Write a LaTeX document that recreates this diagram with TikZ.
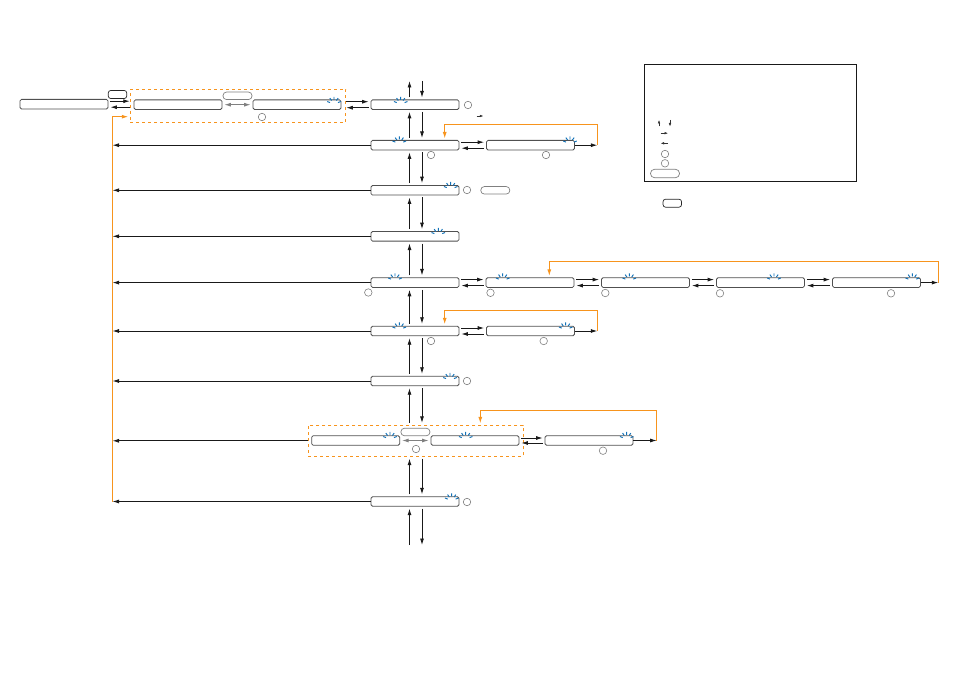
\documentclass[tikz,border=0pt]{standalone}
\usetikzlibrary{arrows.meta}

\definecolor{loopcol}{HTML}{F7941D}
\definecolor{blinkcol}{HTML}{1272B8}
\definecolor{boxcol}{HTML}{505050}

\tikzset{
  lcdbox/.style={draw=boxcol,line width=0.8pt,rounded corners=1.5pt,fill=white,inner sep=0pt,minimum width=88pt,minimum height=9.6pt},
  softkey/.style={draw=gray,line width=0.7pt,rounded corners=3.5pt,inner sep=0pt,minimum width=29pt,minimum height=7.5pt},
  hardkey/.style={draw=black!85,line width=0.7pt,rounded corners=2.5pt,inner sep=0pt,minimum width=18.5pt,minimum height=8pt},
  stepnum/.style={circle,draw=gray,line width=0.6pt,inner sep=0pt,minimum size=7.5pt},
  grpbox/.style={draw=loopcol,dashed,line width=0.8pt,inner sep=0pt},
  flow/.style={draw=black!90,line width=0.85pt,-{Latex[length=6.5pt,width=4pt]},shorten <=2pt,shorten >=2pt},
  rowline/.style={draw=black!90,line width=0.85pt,-{Latex[length=6.5pt,width=4pt]}},
  graylink/.style={draw=gray,line width=0.9pt,{Latex[length=6.5pt,width=4pt]}-{Latex[length=6.5pt,width=4pt]},shorten <=2pt,shorten >=2pt},
  loopline/.style={draw=loopcol,line width=1pt,-{Latex[length=6.5pt,width=4pt]},shorten >=1.5pt},
  legendarrow/.style={draw=black!80,line width=0.5pt,-{Latex[length=3.5pt,width=2.6pt]}},
  blink/.pic={
    \draw[blinkcol,line width=0.95pt] (20:4.2pt) -- (20:7.2pt) (55:4.2pt) -- (55:7.2pt) (90:4.2pt) -- (90:7.2pt) (125:4.2pt) -- (125:7.2pt) (160:4.2pt) -- (160:7.2pt);
  }
}

\begin{document}
\begin{tikzpicture}[x=1pt,y=-1pt]

\useasboundingbox (0,0) rectangle (954,674);

% dashed groups go under the boxes
\node at (238,105.8) [grpbox,minimum width=215.7pt,minimum height=33pt] (grp1) {};
\node at (415.8,440.8) [grpbox,minimum width=215pt,minimum height=31pt] (grp2) {};

% main column
\node at (415,104.7) [lcdbox] (row1) {};
\node at (415,145.2) [lcdbox] (row2) {};
\node at (415,190.3) [lcdbox] (row3) {};
\node at (415,236.3) [lcdbox] (row4) {};
\node at (415,282.6) [lcdbox] (row5) {};
\node at (415,331) [lcdbox] (row6) {};
\node at (415,381) [lcdbox] (row7) {};
\node at (415,501.5) [lcdbox] (row9) {};

% top left boxes
\node at (64,104.2) [lcdbox] (boxa) {};
\node at (178,104.7) [lcdbox] (boxb) {};
\node at (297,104.7) [lcdbox] (boxc) {};

% side branches
\node at (530.5,145.2) [lcdbox] (row2a) {};
\node at (530,282.6) [lcdbox] (row5a) {};
\node at (645.5,282.6) [lcdbox] (row5b) {};
\node at (760.5,282.6) [lcdbox] (row5c) {};
\node at (876.5,282.6) [lcdbox] (row5d) {};
\node at (530.5,331) [lcdbox] (row6a) {};
\node at (355.7,440.5) [lcdbox] (row8a) {};
\node at (475,440.5) [lcdbox] (row8b) {};
\node at (589,440.5) [lcdbox] (row8c) {};

% keys
\node at (117.5,94.5) [hardkey] (keytop) {};
\node at (237.5,95.8) [softkey] (softa) {};
\node at (495.3,190.3) [softkey] (softb) {};
\node at (415.4,432) [softkey] (softc) {};

% numbered circles
\node at (262,117) [stepnum] (numc) {};
\node at (468,105) [stepnum] (num1) {};
\node at (431,155) [stepnum] (num2) {};
\node at (546,155) [stepnum] (num2a) {};
\node at (467,190) [stepnum] (num3) {};
\node at (368.3,292.5) [stepnum] (num5) {};
\node at (490.5,292.8) [stepnum] (num5a) {};
\node at (605.3,293) [stepnum] (num5b) {};
\node at (720,293.3) [stepnum] (num5c) {};
\node at (891,293.3) [stepnum] (num5d) {};
\node at (431,341) [stepnum] (num6) {};
\node at (543.7,341) [stepnum] (num6a) {};
\node at (467,381) [stepnum] (num7) {};
\node at (416,449) [stepnum] (num8) {};
\node at (603,450.7) [stepnum] (num8c) {};
\node at (467,502) [stepnum] (num9) {};

% blinking segments
\pic at (334,104) {blink};
\pic at (400.7,104) {blink};
\pic at (399.3,143.5) {blink};
\pic at (570,143.5) {blink};
\pic at (450.7,189) {blink};
\pic at (438.3,235) {blink};
\pic at (395,280.5) {blink};
\pic at (502.7,280.5) {blink};
\pic at (629.3,280.5) {blink};
\pic at (774,280.5) {blink};
\pic at (912.3,280.5) {blink};
\pic at (399.3,329.5) {blink};
\pic at (565.7,329.5) {blink};
\pic at (450,380) {blink};
\pic at (390,439) {blink};
\pic at (465.7,439) {blink};
\pic at (626.7,439) {blink};
\pic at (451.7,500.5) {blink};

% column positions and free ends
\coordinate (up) at (409.5,0);
\coordinate (dn) at (422,0);
\coordinate (topend) at (0,81);
\coordinate (botend) at (0,545);
\coordinate (bus) at (112.5,116.7);
\coordinate (exit2) at (597.3,145.2);
\coordinate (exit5) at (938.3,282.6);
\coordinate (exit6) at (597.3,331);
\coordinate (exit8) at (656.7,440.5);
\coordinate (loop2) at (444.7,124.3);
\coordinate (loop5) at (549.3,261.3);
\coordinate (loop6) at (444.7,310.3);
\coordinate (loop8) at (480.3,410.7);

% orange return lines
\draw[loopline] (bus |- row9.west) -- (bus) -- (bus -| grp1.west);
\draw[loopline] (exit2) |- (loop2) -- (loop2 |- row2.north);
\draw[loopline] (exit5) |- (loop5) -- (loop5 |- row5a.north);
\draw[loopline] (exit6) |- (loop6) -- (loop6 |- row6.north);
\draw[loopline] (exit8) |- (loop8) -- (loop8 |- grp2.north);

% up and down through the column
\draw[flow,shorten >=0pt] (up |- row1.north) -- (up |- topend);
\draw[flow,shorten <=0pt] (dn |- topend) -- (dn |- row1.north);
\draw[flow] (up |- row2.north) -- (up |- row1.south);
\draw[flow] (dn |- row1.south) -- (dn |- row2.north);
\draw[flow] (up |- row3.north) -- (up |- row2.south);
\draw[flow] (dn |- row2.south) -- (dn |- row3.north);
\draw[flow] (up |- row4.north) -- (up |- row3.south);
\draw[flow] (dn |- row3.south) -- (dn |- row4.north);
\draw[flow] (up |- row5.north) -- (up |- row4.south);
\draw[flow] (dn |- row4.south) -- (dn |- row5.north);
\draw[flow] (up |- row6.north) -- (up |- row5.south);
\draw[flow] (dn |- row5.south) -- (dn |- row6.north);
\draw[flow] (up |- row7.north) -- (up |- row6.south);
\draw[flow] (dn |- row6.south) -- (dn |- row7.north);
\draw[flow] (up |- grp2.north) -- (up |- row7.south);
\draw[flow] (dn |- row7.south) -- (dn |- grp2.north);
\draw[flow] (up |- row9.north) -- (up |- grp2.south);
\draw[flow] (dn |- grp2.south) -- (dn |- row9.north);
\draw[flow,shorten <=0pt] (up |- botend) -- (up |- row9.south);
\draw[flow,shorten >=0pt] (dn |- row9.south) -- (dn |- botend);

% sideways pairs
\draw[flow,shorten >=0pt] ([yshift=3pt]boxa.east) -- ([yshift=3pt]boxa.east -| grp1.west);
\draw[flow,shorten <=0pt] ([yshift=-3pt]boxa.east -| grp1.west) -- ([yshift=-3pt]boxa.east);
\draw[flow,shorten <=0pt] ([yshift=3pt]row1.west -| grp1.east) -- ([yshift=3pt]row1.west);
\draw[flow,shorten >=0pt] ([yshift=-3pt]row1.west) -- ([yshift=-3pt]row1.west -| grp1.east);
\draw[flow] ([yshift=3pt]row2.east) -- ([yshift=3pt]row2a.west);
\draw[flow] ([yshift=-3pt]row2a.west) -- ([yshift=-3pt]row2.east);
\draw[flow] ([yshift=3pt]row5.east) -- ([yshift=3pt]row5a.west);
\draw[flow] ([yshift=-3pt]row5a.west) -- ([yshift=-3pt]row5.east);
\draw[flow] ([yshift=3pt]row5a.east) -- ([yshift=3pt]row5b.west);
\draw[flow] ([yshift=-3pt]row5b.west) -- ([yshift=-3pt]row5a.east);
\draw[flow] ([yshift=3pt]row5b.east) -- ([yshift=3pt]row5c.west);
\draw[flow] ([yshift=-3pt]row5c.west) -- ([yshift=-3pt]row5b.east);
\draw[flow] ([yshift=3pt]row5c.east) -- ([yshift=3pt]row5d.west);
\draw[flow] ([yshift=-3pt]row5d.west) -- ([yshift=-3pt]row5c.east);
\draw[flow] ([yshift=3pt]row6.east) -- ([yshift=3pt]row6a.west);
\draw[flow] ([yshift=-3pt]row6a.west) -- ([yshift=-3pt]row6.east);
\draw[flow] ([yshift=2.5pt]row8b.east) -- ([yshift=2.5pt]row8c.west);
\draw[flow] ([yshift=-2.5pt]row8c.west) -- ([yshift=-2.5pt]row8b.east);

\draw[graylink] (boxb) -- (boxc);
\draw[graylink] (row8a) -- (row8b);

% leaving each row to the left
\draw[rowline] (row2.west) -- (bus |- row2.west);
\draw[rowline] (row3.west) -- (bus |- row3.west);
\draw[rowline] (row4.west) -- (bus |- row4.west);
\draw[rowline] (row5.west) -- (bus |- row5.west);
\draw[rowline] (row6.west) -- (bus |- row6.west);
\draw[rowline] (row7.west) -- (bus |- row7.west);
\draw[rowline] (grp2.west) -- (bus |- grp2.west);
\draw[rowline] (row9.west) -- (bus |- row9.west);

% branch ends
\draw[rowline] (row2a.east) -- (exit2);
\draw[rowline] (row5d.east) -- (exit5);
\draw[rowline] (row6a.east) -- (exit6);
\draw[rowline] (row8c.east) -- (exit8);

% small arrow beside the first row
\coordinate (hinta) at (476.7,116);
\coordinate (hintb) at (483.3,116);
\draw[legendarrow] (hinta) -- (hintb);

% legend
\node at (750.5,122.8) [draw=black!90,line width=0.8pt,inner sep=0pt,minimum width=212.4pt,minimum height=117pt] (legend) {};
\coordinate (lega) at (659,126.5);
\coordinate (legb) at (659,120);
\coordinate (legc) at (670,120);
\coordinate (legd) at (670,126.5);
\coordinate (lege) at (660.7,133.2);
\coordinate (legf) at (668,133.2);
\coordinate (legg) at (668,143.3);
\coordinate (legh) at (660.7,143.3);
\draw[legendarrow] (lega) -- (legb);
\draw[legendarrow] (legc) -- (legd);
\draw[legendarrow] (lege) -- (legf);
\draw[legendarrow] (legg) -- (legh);
\node at (665,154) [stepnum] (legnuma) {};
\node at (665,163.3) [stepnum] (legnumb) {};
\node at (665,173.5) [softkey,rounded corners=4pt,minimum height=8.4pt] (legsoft) {};
\node at (672.3,203.2) [hardkey] (legkey) {};

\end{tikzpicture}
\end{document}
